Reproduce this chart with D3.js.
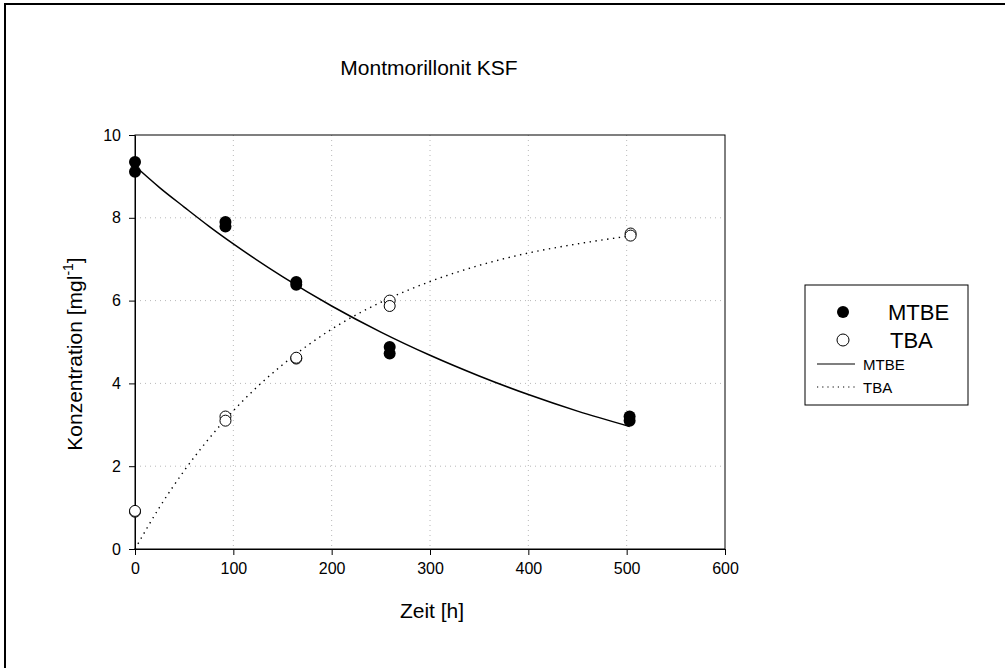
<!DOCTYPE html>
<html lang="de">
<meta charset="UTF-8">
<title>Montmorillonit KSF</title>
<script src="https://d3js.org/d3.v7.min.js"></script>
<style>
  body { margin: 0; background: #fff; }
  svg text { font-family: "Liberation Sans", Arial, sans-serif; fill: #000; }
  .grid line { stroke: #b8b8b8; stroke-dasharray: 1,4; }
  .axis path, .axis line { stroke: #000; }
  .axis text { font-size: 16px; }
</style>
<body>
<svg id="chart" width="1005" height="668"></svg>
<script>
// measured points (h, mg/l)
var mtbeTime = [0, 0, 92, 92, 164, 164, 259, 259, 503, 503];
var mtbeConc = [9.35, 9.11, 7.9, 7.79, 6.45, 6.38, 4.88, 4.72, 3.2, 3.1];
var tbaTime = [0, 0, 92, 92, 164, 164, 259, 259, 504, 504];
var tbaConc = [0.9, 0.92, 3.2, 3.1, 4.6, 4.62, 6.0, 5.87, 7.62, 7.57];

// fitted curves
var fitTime = [0, 25, 50, 75, 100, 150, 200, 250, 300, 350, 400, 450, 503];
var mtbeFit = [9.25, 8.73, 8.26, 7.8, 7.37, 6.58, 5.87, 5.24, 4.68, 4.18, 3.73, 3.33, 2.96];
var tbaFit = [0, 1.01, 1.89, 2.66, 3.34, 4.45, 5.31, 5.96, 6.46, 6.85, 7.15, 7.37, 7.56];

var xTicks = [0, 100, 200, 300, 400, 500, 600];
var yTicks = [0, 2, 4, 6, 8, 10];

var svg = d3.select("#chart");

// outer frame (only top and left edges show)
svg.append("path")
    .attr("d", "M5,668 V4 H1005")
    .attr("fill", "none")
    .attr("stroke", "#000")
    .attr("stroke-width", 2);

var pLeft = 135, pRight = 725, pTop = 135, pBottom = 549;
var x = d3.scaleLinear().domain([0, 600]).range([pLeft, pRight]);
var y = d3.scaleLinear().domain([0, 10]).range([pBottom, pTop]);

// grid
var grid = svg.append("g").attr("class", "grid");
grid.selectAll("line.gx")
    .data(xTicks.slice(1, -1))
    .enter().append("line")
      .attr("class", "gx")
      .attr("x1", d => x(d)).attr("x2", d => x(d))
      .attr("y1", pTop).attr("y2", pBottom);
grid.selectAll("line.gy")
    .data(yTicks.slice(1, -1))
    .enter().append("line")
      .attr("class", "gy")
      .attr("x1", pLeft).attr("x2", pRight)
      .attr("y1", d => y(d)).attr("y2", d => y(d));

// plot frame
svg.append("rect")
    .attr("x", pLeft).attr("y", pTop)
    .attr("width", pRight - pLeft).attr("height", pBottom - pTop)
    .attr("fill", "none").attr("stroke", "#000");

svg.append("g")
    .attr("class", "axis")
    .attr("transform", `translate(0,${pBottom})`)
    .call(d3.axisBottom(x).tickValues(xTicks).tickSize(6).tickPadding(8).tickSizeOuter(0));

svg.append("g")
    .attr("class", "axis")
    .attr("transform", `translate(${pLeft},0)`)
    .call(d3.axisLeft(y).tickValues(yTicks).tickSize(6).tickPadding(8).tickSizeOuter(0));

// fitted lines
var line = d3.line().curve(d3.curveMonotoneX);
svg.append("path")
    .attr("d", line(fitTime.map((t, i) => [x(t), y(mtbeFit[i])])))
    .attr("fill", "none").attr("stroke", "#000").attr("stroke-width", 1.5);
svg.append("path")
    .attr("d", line(fitTime.map((t, i) => [x(t), y(tbaFit[i])])))
    .attr("fill", "none").attr("stroke", "#000").attr("stroke-width", 1.4)
    .attr("stroke-dasharray", "1.4,4.5");

// points
svg.selectAll("circle.mtbe")
    .data(mtbeTime.map((t, i) => [t, mtbeConc[i]]))
    .enter().append("circle")
      .attr("class", "mtbe")
      .attr("cx", d => x(d[0])).attr("cy", d => y(d[1]))
      .attr("r", 6).attr("fill", "#000");
svg.selectAll("circle.tba")
    .data(tbaTime.map((t, i) => [t, tbaConc[i]]))
    .enter().append("circle")
      .attr("class", "tba")
      .attr("cx", d => x(d[0])).attr("cy", d => y(d[1]))
      .attr("r", 5.5).attr("fill", "#fff").attr("stroke", "#000");

// titles
svg.append("text")
    .attr("x", 429).attr("y", 75)
    .attr("text-anchor", "middle")
    .style("font-size", "21px")
    .text("Montmorillonit KSF");

svg.append("text")
    .attr("x", 432).attr("y", 618)
    .attr("text-anchor", "middle")
    .style("font-size", "21px")
    .text("Zeit [h]");

var yl = svg.append("text")
    .attr("transform", "translate(82,354) rotate(-90)")
    .attr("text-anchor", "middle")
    .style("font-size", "21px");
yl.append("tspan").text("Konzentration [mgl");
yl.append("tspan").attr("dy", -9).style("font-size", "14px").text("-1");
yl.append("tspan").attr("dy", 9).text("]");

// legend
var lg = svg.append("g");
lg.append("rect")
    .attr("x", 805).attr("y", 285).attr("width", 163).attr("height", 120)
    .attr("fill", "#fff").attr("stroke", "#000");
lg.append("circle").attr("cx", 843).attr("cy", 312).attr("r", 6).attr("fill", "#000");
lg.append("circle").attr("cx", 843).attr("cy", 340).attr("r", 6)
    .attr("fill", "#fff").attr("stroke", "#000");
lg.append("text").attr("x", 888).attr("y", 320).style("font-size", "22px").text("MTBE");
lg.append("text").attr("x", 890).attr("y", 348).style("font-size", "22px").text("TBA");
lg.append("line").attr("x1", 817).attr("x2", 855).attr("y1", 364).attr("y2", 364)
    .attr("stroke", "#000").attr("stroke-width", 1.2);
lg.append("line").attr("x1", 817).attr("x2", 855).attr("y1", 387).attr("y2", 387)
    .attr("stroke", "#000").attr("stroke-width", 1.2).attr("stroke-dasharray", "1.2,4");
lg.append("text").attr("x", 863).attr("y", 370).style("font-size", "15px").text("MTBE");
lg.append("text").attr("x", 863).attr("y", 393).style("font-size", "15px").text("TBA");
</script>
</body>
</html>
